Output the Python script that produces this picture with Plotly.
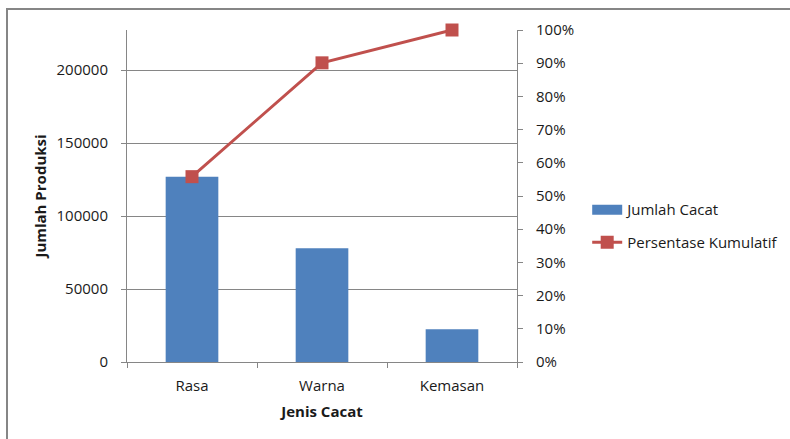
import plotly.graph_objects as go

categories = ["Rasa", "Warna", "Kemasan"]
jumlah_cacat = [127000, 78000, 22500]
total = sum(jumlah_cacat)
kumulatif = []
acc = 0
for v in jumlah_cacat:
    acc += v
    kumulatif.append(acc / total)

FONT = "Open Sans"
GRAY = "#868686"
BLUE = "#4F81BD"
RED = "#C0504D"

fig = go.Figure()
fig.add_trace(go.Bar(
    x=categories, y=jumlah_cacat, name="Jumlah Cacat", showlegend=False,
    marker=dict(color=BLUE, line=dict(width=0)),
))
# legend entry drawn as a wide blue bar swatch
fig.add_trace(go.Scatter(
    x=[None], y=[None], name="Jumlah Cacat", mode="lines",
    line=dict(color=BLUE, width=10), legendgroup="a",
))
fig.add_trace(go.Scatter(
    x=categories, y=kumulatif, name="Persentase Kumulatif", yaxis="y2",
    mode="lines+markers", cliponaxis=False, legendgroup="b",
    line=dict(color=RED, width=3),
    marker=dict(symbol="square", size=13, color=RED),
))

fig.update_layout(
    width=790, height=439,
    margin=dict(l=127, r=273, t=30, b=77, autoexpand=False),
    paper_bgcolor="white", plot_bgcolor="white",
    font=dict(family=FONT, size=15, color="#1a1a1a"),
    bargap=0.595,
    showlegend=True,
    legend=dict(x=1.18, y=0.41, xanchor="left", yanchor="middle",
                font=dict(size=15), tracegroupgap=10, bgcolor="rgba(0,0,0,0)"),
    xaxis=dict(
        type="category", tickson="boundaries", ticks="outside", ticklen=5,
        tickcolor=GRAY, showline=True, linecolor=GRAY, linewidth=1,
        showgrid=False, ticklabelstandoff=10,
        title=dict(text="<b>Jenis Cacat</b>", font=dict(size=15), standoff=12),
    ),
    yaxis=dict(
        range=[0, total], dtick=50000, tickformat="d",
        ticks="outside", ticklen=5, tickcolor=GRAY, ticklabelstandoff=10,
        showline=True, linecolor=GRAY, linewidth=1,
        showgrid=True, gridcolor=GRAY, gridwidth=1, zeroline=False,
        title=dict(text="<b>Jumlah Produksi</b>", font=dict(size=15), standoff=6),
    ),
    yaxis2=dict(
        overlaying="y", side="right", range=[0, 1], dtick=0.1, tickformat=".0%",
        ticks="outside", ticklen=5, tickcolor=GRAY, ticklabelstandoff=10,
        showline=True, linecolor=GRAY, linewidth=1,
        showgrid=False, zeroline=False,
    ),
    shapes=[dict(type="rect", xref="paper", yref="paper",
                 x0=-120/390, x1=1 + 285/390, y0=-85/332, y1=1 + 21/332,
                 line=dict(color=GRAY, width=2), fillcolor="rgba(0,0,0,0)", layer="below")],
)

fig.write_html("out.html")
